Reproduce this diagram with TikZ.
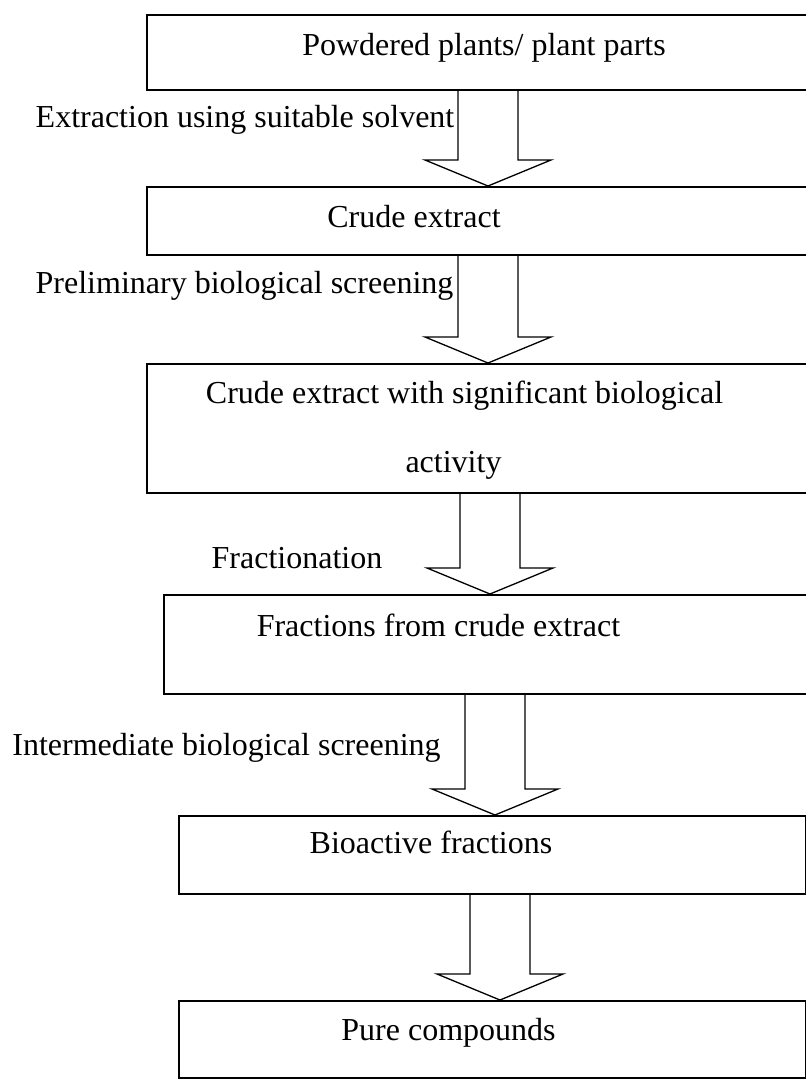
\documentclass[tikz,border=0pt]{standalone}
\usepackage{fontspec}
\setmainfont{Liberation Serif}
\usetikzlibrary{calc}
\newcommand{\fatarrow}[3]{%
	\draw[flow] (#3-30,0 |- #1.south) -- ($(#3-30,0 |- #2.north)+(0,-26)$) -- ($(#3-63,0 |- #2.north)+(0,-26)$) -- (#3,0 |- #2.north) -- ($(#3+63,0 |- #2.north)+(0,-26)$) -- ($(#3+30,0 |- #2.north)+(0,-26)$) -- (#3+30,0 |- #1.south);}

\begin{document}
\begin{tikzpicture}[x=1pt,y=-1pt,
		box/.style={draw,line width=1.7pt,inner sep=0pt,anchor=north west},
		flow/.style={line width=1.3pt,line join=miter},
		txt/.style={inner sep=0pt,anchor=base,font=\fontsize{32}{38}\selectfont}]
		\path[use as bounding box,fill=white] (0,0) rectangle (806,1080);
		\node[box,minimum width=690pt,minimum height=75pt] (plants) at (146,14) {};
		\node[box,minimum width=690pt,minimum height=68pt] (crude) at (146,186) {};
		\node[box,minimum width=690pt,minimum height=129pt] (active) at (146,363) {};
		\node[box,minimum width=680pt,minimum height=99pt] (fractions) at (163,594) {};
		\node[box,minimum width=627pt,minimum height=78pt] (bioactive) at (178,815) {};
		\node[box,minimum width=627pt,minimum height=77pt] (pure) at (178,1000) {};
		\fatarrow{plants}{crude}{488}
		\fatarrow{crude}{active}{488}
		\fatarrow{active}{fractions}{490}
		\fatarrow{fractions}{bioactive}{495}
		\fatarrow{bioactive}{pure}{500}
		\node[txt] (plantstext) at (484,55) {Powdered plants/ plant parts};
		\node[txt] (extraction) at (245,127) {Extraction using suitable solvent};
		\node[txt] (crudetext) at (414,227) {Crude extract};
		\node[txt] (prelim) at (244.5,293) {Preliminary biological screening};
		\node[txt] (activetext) at (464.5,403) {Crude extract with significant biological};
		\node[txt] (activity) at (453.5,472) {activity};
		\node[txt] (fractionation) at (297,568) {Fractionation};
		\node[txt] (fractionstext) at (438.5,636) {Fractions from crude extract};
		\node[txt] (intermediate) at (226.5,755) {Intermediate biological screening};
		\node[txt] (bioactivetext) at (431,853) {Bioactive fractions};
		\node[txt] (puretext) at (448.5,1040) {Pure compounds};
	\end{tikzpicture}
\end{document}
